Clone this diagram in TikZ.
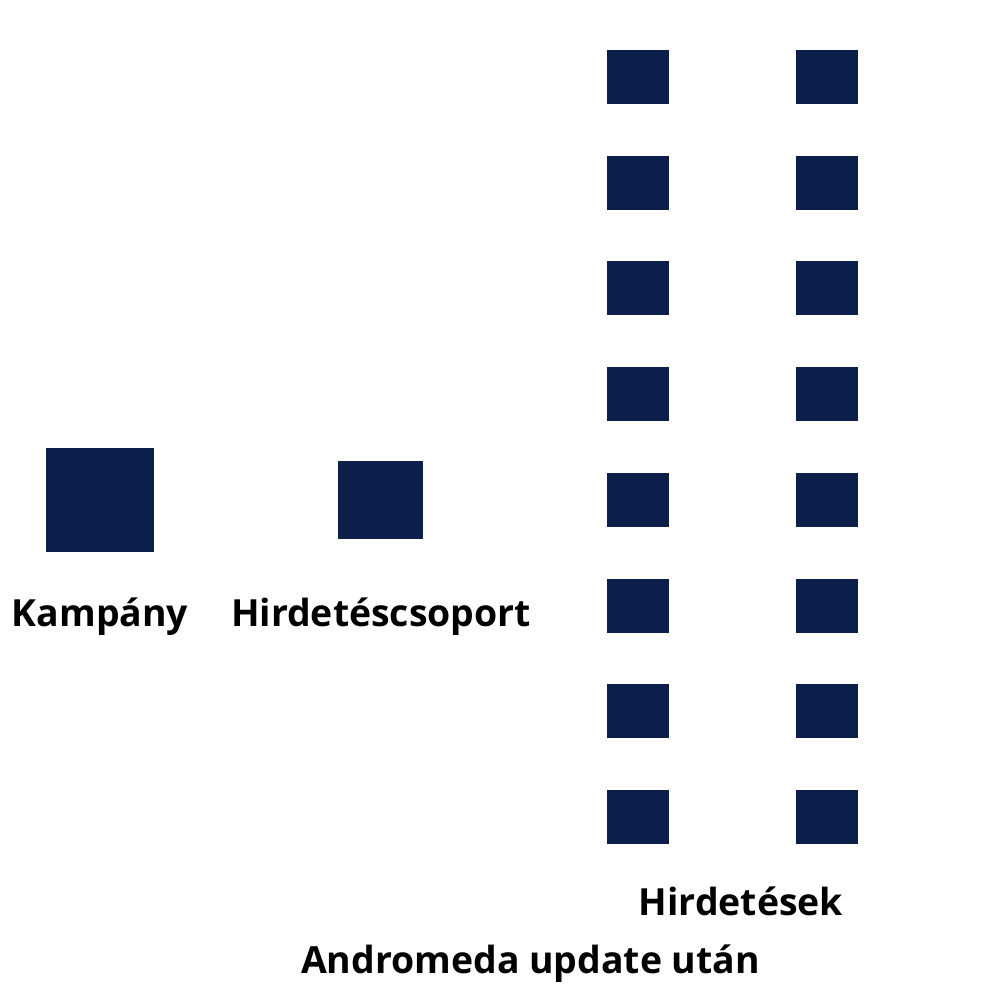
\documentclass[tikz,border=0pt]{standalone}
\usepackage{fontspec}
\setmainfont{Open Sans}
\definecolor{navy}{HTML}{0C1F4A}
\begin{document}
\begin{tikzpicture}[x=1pt,y=-1pt,
  blk/.style={fill=navy,draw=none},
  lbl/.style={font=\fontsize{37.4}{40}\selectfont\bfseries,anchor=base,inner sep=0pt}]
\useasboundingbox (0,0) rectangle (1000,1000);
\fill[white] (0,0) rectangle (1000,1000);
\path[blk] (46,448) rectangle (154,552);
\path[blk] (338,461) rectangle (423,539);
\foreach \i in {0,...,7}{
  \path[blk] (607,{50+105.7*\i}) rectangle (669,{104+105.7*\i});
  \path[blk] (796,{50+105.7*\i}) rectangle (858,{104+105.7*\i});
}
\node[lbl] (t1) at (100,626) {Kampány};
\node[lbl] (t2) at (381,626) {Hirdetéscsoport};
\node[lbl] (t3) at (741,915) {Hirdetések};
\node[lbl] (t4) at (530.5,973) {Andromeda update után};
\end{tikzpicture}
\end{document}
